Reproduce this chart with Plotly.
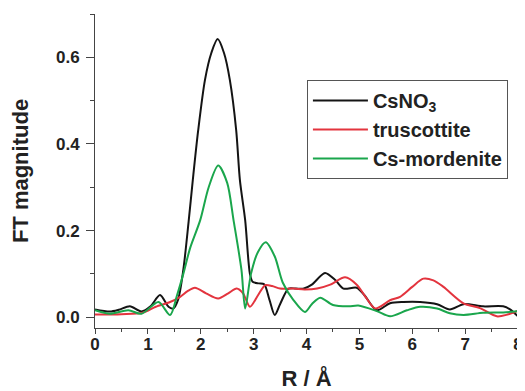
import plotly.graph_objects as go

# CsNO3
x_cs = [0, 0.28, 0.45, 0.66, 0.88, 1.05, 1.23, 1.39, 1.48, 1.57, 1.67, 1.77, 1.85, 1.95, 2.08, 2.2,
        2.32, 2.44, 2.55, 2.67, 2.74, 2.84, 2.93, 2.98, 3.1, 3.2, 3.3, 3.40, 3.5, 3.66, 3.8, 3.95,
        4.1, 4.35, 4.55, 4.70, 4.95, 5.1, 5.33, 5.58, 5.83, 6.15, 6.47, 6.71, 6.97, 7.34, 7.72, 7.85, 8.0]
y_cs = [0.018, 0.013, 0.017, 0.025, 0.013, 0.025, 0.051, 0.024, 0.02, 0.04, 0.109, 0.22, 0.317, 0.43,
        0.548, 0.61, 0.642, 0.61, 0.548, 0.432, 0.317, 0.224, 0.10, 0.082, 0.078, 0.076, 0.04, 0.005,
        0.03, 0.066, 0.066, 0.066, 0.075, 0.102, 0.085, 0.066, 0.068, 0.05, 0.016, 0.032, 0.035, 0.035,
        0.03, 0.018, 0.03, 0.025, 0.025, 0.018, 0.002]

# truscottite
x_tr = [0, 0.5, 0.9, 1.15, 1.42, 1.61, 1.75, 1.89, 2.1, 2.33, 2.52, 2.68, 2.8, 2.93, 3.08, 3.22, 3.35,
        3.5, 3.75, 3.96, 4.2, 4.45, 4.73, 4.95, 5.1, 5.3, 5.58, 5.77, 6.0, 6.21, 6.4, 6.59, 6.97, 7.28,
        7.6, 7.8, 8.0]
y_tr = [0.006, 0.007, 0.01, 0.024, 0.035, 0.047, 0.06, 0.068, 0.055, 0.043, 0.055, 0.066, 0.055, 0.024,
        0.05, 0.074, 0.072, 0.066, 0.066, 0.064, 0.066, 0.075, 0.092, 0.075, 0.05, 0.02, 0.039, 0.047,
        0.07, 0.089, 0.085, 0.070, 0.032, 0.021, 0.002, 0.006, 0.015]

# Cs-mordenite
x_mo = [0, 0.28, 0.63, 0.88, 1.2, 1.42, 1.55, 1.67, 1.8, 1.99, 2.15, 2.33, 2.5, 2.62, 2.77, 2.84,
        2.95, 3.08, 3.23, 3.4, 3.55, 3.75, 3.97, 4.1, 4.26, 4.5, 4.8, 4.98, 5.33, 5.58, 5.9, 6.15, 6.47,
        6.71, 6.97, 7.34, 7.72, 8.0]
y_mo = [0.016, 0.008, 0.016, 0.008, 0.035, 0.005, 0.05, 0.10, 0.16, 0.224, 0.3, 0.35, 0.31, 0.224,
        0.109, 0.02, 0.1, 0.15, 0.173, 0.14, 0.08, 0.04, 0.012, 0.03, 0.045, 0.028, 0.025, 0.027, 0.014,
        0.002, 0.016, 0.024, 0.02, 0.009, 0.005, 0.01, 0.011, 0.014]

x_ticks = [0, 1, 2, 3, 4, 5, 6, 7, 8]
y_ticks = [0.0, 0.2, 0.4, 0.6]
y_ticktext = ["0.0", "0.2", "0.4", "0.6"]

FONT = "Liberation Sans, Arial, sans-serif"

fig = go.Figure()
series = [
    ("CsNO<sub>3</sub>", x_cs, y_cs, "#141414"),
    ("truscottite", x_tr, y_tr, "#e3343e"),
    ("Cs-mordenite", x_mo, y_mo, "#1aa64c"),
]
for name, xs, ys, col in series:
    fig.add_trace(go.Scatter(x=xs, y=ys, mode="lines", name=name,
                             line=dict(color=col, width=2, shape="spline", smoothing=0.8)))

# page body has an 8px default margin -> figure is 517x383 placed at (8, 8)
fig.update_layout(
    width=517, height=383,
    margin=dict(l=87, r=7, t=6, b=63),
    paper_bgcolor="white", plot_bgcolor="white",
    font=dict(family=FONT, size=15, color="#222"),
    legend=dict(x=0.501, y=0.79, xanchor="left", yanchor="top",
                bordercolor="#555", borderwidth=1, bgcolor="white",
                font=dict(size=20, weight="bold", color="#222"),
                tracegroupgap=0, itemwidth=55),
    showlegend=True,
)
fig.update_xaxes(range=[0, 8], tickvals=x_ticks, ticks="outside", ticklen=5, tickwidth=1,
                 tickcolor="#444", showline=True, linecolor="#444", linewidth=1,
                 showgrid=False, zeroline=False, automargin=False, ticklabeloverflow="allow",
                 ticklabelstandoff=-4,
                 tickfont=dict(size=17, weight="bold", color="#222"),
                 minor=dict(dtick=0.5, ticks="outside", ticklen=3, tickcolor="#444"),
                 title=dict(text="R / Å", font=dict(size=22, weight="bold", color="#222"), standoff=18))
fig.update_yaxes(range=[-0.025, 0.7], tickvals=y_ticks, ticktext=y_ticktext,
                 ticks="outside", ticklen=8, tickwidth=1,
                 tickcolor="#444", showline=True, linecolor="#444", linewidth=1,
                 showgrid=False, zeroline=False, automargin=False, ticklabeloverflow="allow",
                 ticklabelstandoff=3,
                 tickfont=dict(size=17, weight="bold", color="#222"),
                 minor=dict(tickvals=[0.1, 0.3, 0.5, 0.7], ticks="outside", ticklen=4, tickcolor="#444"),
                 title=dict(text="FT magnitude", font=dict(size=22, weight="bold", color="#222"), standoff=24))

fig.write_html("out.html")
